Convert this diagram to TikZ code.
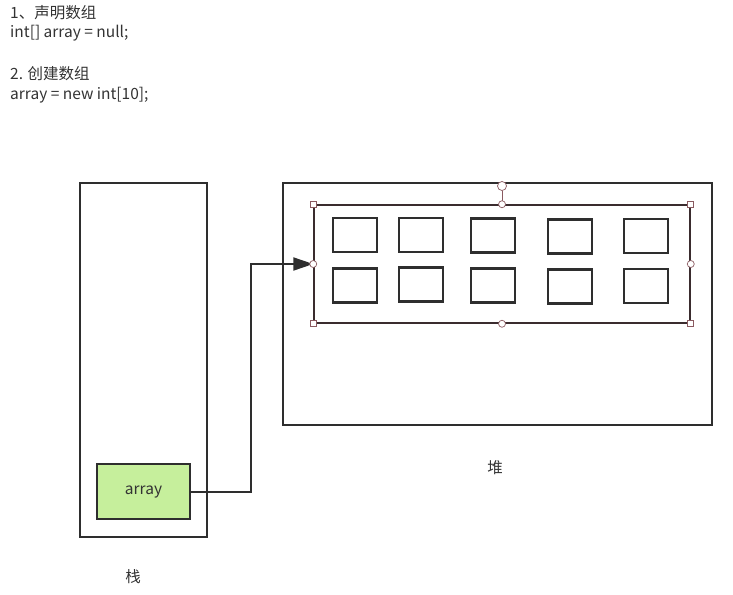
\documentclass[tikz,border=0pt]{standalone}
\usepackage{fontspec}
\setmainfont{Noto Sans CJK SC}
\usepackage{xcolor}
\definecolor{memdark}{HTML}{2E2E2E}
\definecolor{memtext}{HTML}{333333}
\definecolor{memgreen}{HTML}{C6EF9C}
\definecolor{memsel}{HTML}{3A2C2E}
\definecolor{memhandle}{HTML}{8A5A60}
\usetikzlibrary{positioning, arrows.meta}
\tikzset{
  every node/.style={font=\fontsize{15.5}{18}\selectfont, text=memtext},
  codeline/.style={anchor=west, inner sep=0pt},
  region/.style={rectangle, draw=memdark, line width=2.2pt, inner sep=0pt},
  varbox/.style={rectangle, draw=memdark, fill=memgreen, line width=1.8pt,
    minimum width=93pt, minimum height=55pt, inner sep=0pt},
  cell/.style={rectangle, draw=memdark, line width=2.2pt,
    minimum width=44pt, minimum height=34pt, inner sep=0pt},
  selbox/.style={rectangle, draw=memsel, line width=1.5pt,
    minimum width=376pt, minimum height=118pt, inner sep=0pt},
  sqhandle/.style={rectangle, draw=memhandle, fill=white, line width=0.7pt,
    minimum size=6pt, inner sep=0pt},
  rdhandle/.style={circle, draw=memhandle, fill=white, line width=0.7pt,
    minimum size=7pt, inner sep=0pt},
  refarrow/.style={-{Triangle[length=20pt, width=13pt]}, memdark, line width=2pt}
}

\begin{document}
\begin{tikzpicture}[x=1pt, y=-1pt]
\useasboundingbox (0,0) rectangle (733,594);

% Code text
\node[codeline] (l1) at (10,13) {1、声明数组};
\node[codeline] (l2) at (10,33) {int[] array = null;};
\node[codeline] (l3) at (10,74) {2. 创建数组};
\node[codeline] (l4) at (10,95) {array = new int[10];};

% Stack and heap
\node[region, minimum width=127pt, minimum height=354pt] (stack) at (143.5,360) {};
\node[region, minimum width=429pt, minimum height=242pt] (heap) at (497.5,304) {};
\node (stacklbl) at (133,577) {栈};
\node (heaplbl) at (495,468) {堆};

% Variable on the stack
\node[varbox] (var) at (143.5,491.5) {\raisebox{-2pt}{array}};

% Array object
\node[selbox] (sel) at (502,264) {};
\foreach \x/\y [count=\i] in {355/235, 421/235, 493/235.5, 570/236.5, 646/236,
                             355/285.5, 421/284.5, 493/285.5, 570/286.5, 646/286} {
  \node[cell] (c\i) at (\x,\y) {};
}

% Reference
\coordinate (bend) at (251,0);
\draw[refarrow] (var.east) -- (var.east -| bend) -- (sel.west -| bend) -- (sel.west);

% Selection handles
\node[rdhandle, minimum size=9pt] (rot) at (502,186) {};
\draw[memhandle, line width=0.7pt] (rot.south) -- (sel.north);
\foreach \a in {north west, north east, south west, south east}
  \node[sqhandle] at (sel.\a) {};
\foreach \a in {north, south, west, east}
  \node[rdhandle] at (sel.\a) {};

\end{tikzpicture}
\end{document}
